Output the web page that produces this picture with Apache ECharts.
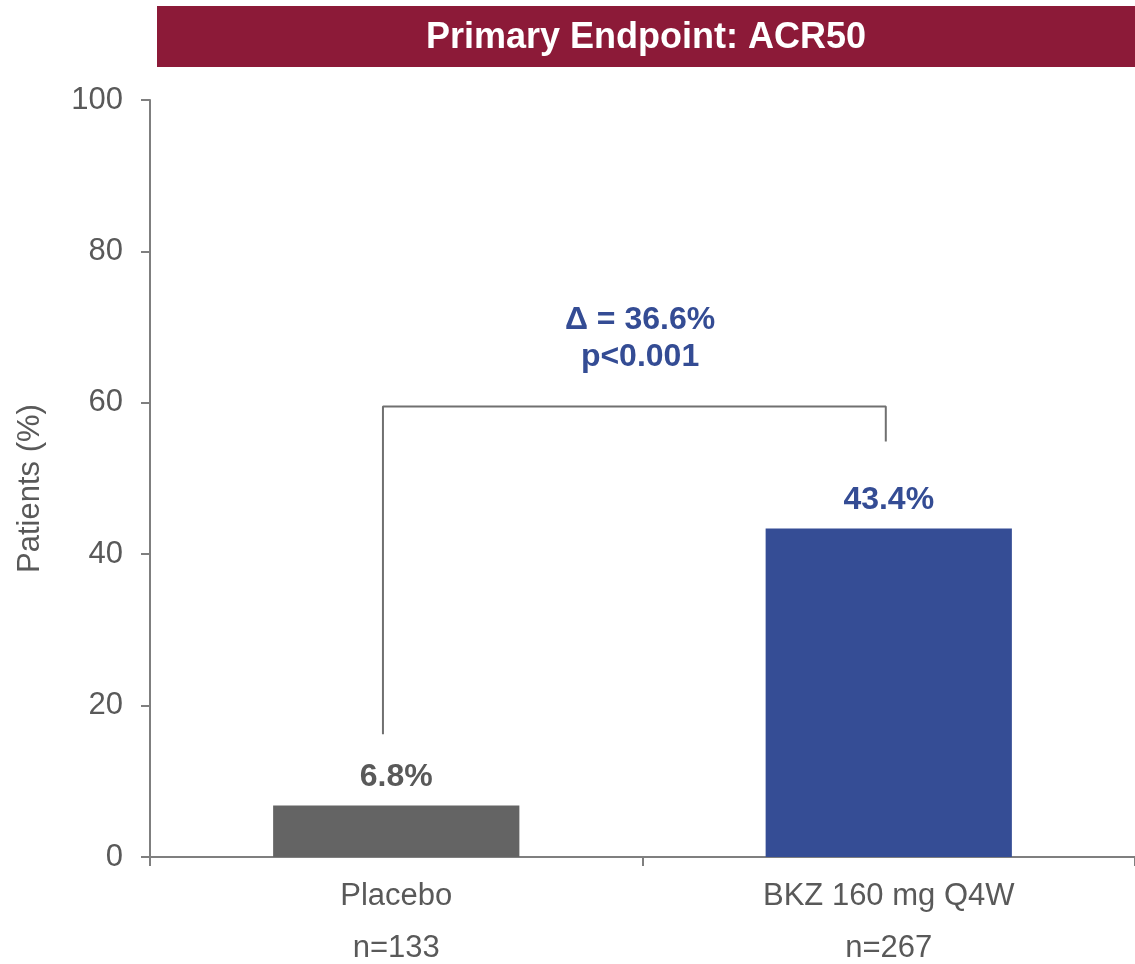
<!DOCTYPE html>
<html>
<head>
<meta charset="utf-8">
<script src="https://cdn.jsdelivr.net/npm/echarts@6/dist/echarts.min.js"></script>
<style>
  html, body { margin: 0; padding: 0; background: #ffffff; }
  #chart { width: 1135px; height: 964px; }
</style>
</head>
<body>
<div id="chart"></div>
<script>
// Treatment groups and response rates
const categories = ['Placebo', 'BKZ 160 mg Q4W'];
const sampleSizes = ['n=133', 'n=267'];
const responseRates = [6.8, 43.4];
const barColors = ['#646464', '#354D95'];
const yTicks = [0, 20, 40, 60, 80, 100];

// Comparison bracket, on a 0–2 scale across the two categories
const bracketPoints = [[0.473, 16.2], [0.473, 59.5], [1.494, 59.5], [1.494, 54.9]];
const deltaText = 'Δ = 36.6%';
const pText = 'p<0.001';

const FONT = '"Liberation Sans", Arial, sans-serif';
const GREY_TEXT = '#595959';
const AXIS_GREY = '#7F7F7F';
const BLUE_TEXT = '#344C94';

const chart = echarts.init(document.getElementById('chart'), null, { renderer: 'canvas' });

const option = {
  backgroundColor: '#ffffff',
  animation: false,
  textStyle: { fontFamily: FONT },
  graphic: [
    {
      type: 'rect',
      shape: { x: 157, y: 6, width: 978, height: 61 },
      style: { fill: '#8C1A38' },
      z: 10
    },
    {
      type: 'text',
      x: 646, y: 38,
      style: {
        text: 'Primary Endpoint: ACR50',
        fill: '#ffffff',
        font: 'bold 36px ' + FONT,
        align: 'center',
        verticalAlign: 'middle'
      },
      z: 11
    }
  ],
  grid: { left: 150, right: 0, top: 100, bottom: 107, containLabel: false, outerBoundsMode: 'none' },
  xAxis: [
    {
      type: 'category',
      data: categories,
      axisLine: { lineStyle: { color: AXIS_GREY, width: 2 } },
      axisTick: { show: true, alignWithLabel: false, length: 9, lineStyle: { color: AXIS_GREY, width: 2 } },
      axisLabel: {
        margin: 13,
        formatter: (v, i) => v + '\n' + sampleSizes[i],
        color: GREY_TEXT,
        fontSize: 31,
        lineHeight: 52,
        fontFamily: FONT
      }
    },
    {
      type: 'value',
      min: 0, max: 2,
      show: false
    }
  ],
  yAxis: {
    type: 'value',
    min: 0, max: 100, interval: 20,
    name: 'Patients (%)',
    nameLocation: 'middle',
    nameGap: 104,
    nameRotate: 90,
    nameTextStyle: { color: GREY_TEXT, fontSize: 31, fontFamily: FONT, padding: [0, 20, 0, 0] },
    axisLine: { show: true, lineStyle: { color: AXIS_GREY, width: 2 } },
    axisTick: { show: true, length: 9, lineStyle: { color: AXIS_GREY, width: 2 } },
    splitLine: { show: false },
    axisLabel: {
      margin: 27,
      color: GREY_TEXT,
      fontSize: 31,
      fontFamily: FONT,
      customValues: yTicks
    }
  },
  series: [
    {
      type: 'bar',
      xAxisIndex: 0,
      barWidth: '50%',
      data: responseRates.map((v, i) => ({
        value: v,
        itemStyle: { color: barColors[i] },
        label: { color: i === 0 ? GREY_TEXT : BLUE_TEXT }
      })),
      label: {
        show: true,
        position: 'top',
        distance: 12,
        formatter: p => p.value.toFixed(1) + '%',
        fontSize: 32,
        fontWeight: 'bold',
        fontFamily: FONT
      }
    },
    {
      type: 'line',
      xAxisIndex: 1,
      data: bracketPoints,
      symbol: 'none',
      lineStyle: { color: '#707070', width: 2 },
      silent: true,
      markPoint: {
        symbol: 'rect',
        symbolSize: 0,
        data: [
          {
            coord: [0.995, 68.5],
            label: {
              show: true,
              formatter: deltaText + '\n' + pText,
              color: BLUE_TEXT,
              fontSize: 32,
              fontWeight: 'bold',
              lineHeight: 37,
              fontFamily: FONT,
              align: 'center',
              verticalAlign: 'middle',
              position: 'inside'
            }
          }
        ]
      }
    }
  ]
};

chart.setOption(option);
</script>
</body>
</html>
